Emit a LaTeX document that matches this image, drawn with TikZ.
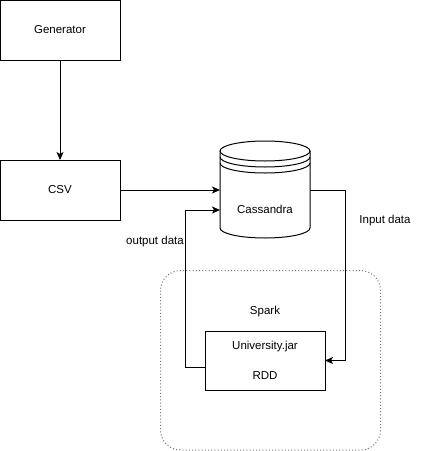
\documentclass[tikz,border=0pt]{standalone}
\usepackage{fontspec}
\setmainfont{Liberation Sans}
\usetikzlibrary{arrows.meta,calc,positioning}
\begin{document}
\begin{tikzpicture}[x=1pt,y=-1pt,
  every node/.style={font=\fontsize{11.5}{13}\selectfont, inner sep=0pt, outer sep=0pt},
  boxnode/.style={draw, line width=1pt, minimum width=120pt, minimum height=60pt},
  conn/.style={line width=1pt, -{Stealth[length=8pt,width=7pt,inset=2pt]}},
  plain/.style={line width=1pt},
  grp/.style={draw=black!55, line width=1pt, dash pattern=on 1pt off 2.2pt, rounded corners=20pt}
]
\useasboundingbox (0,0) rectangle (421,451);

% Nodes
\node[boxnode] (gen) at (60,30) {Generator};
\node[boxnode] (csv) at (60,190) {CSV};

% Spark group
\draw[grp] (160.5,270.5) rectangle (380.5,450);
\node (spark) at (265,312) {Spark};

% University box
\node[draw, line width=1pt, minimum width=120pt, minimum height=59pt] (uni) at (265,360.5) {};
\node (unitxt) at (265,347) {University.jar};
\node (rdd) at (265,376) {RDD};

% Cassandra cylinder
\node[minimum width=90pt, minimum height=97pt] (cas) at (265,189.5) {};
\fill[white] (220,151) -- (220,228) arc[start angle=180,end angle=360,x radius=45,y radius=-10] -- (310,151) arc[start angle=0,end angle=180,x radius=45,y radius=-10] -- cycle;
\draw[plain] (220,151) -- (220,228) arc[start angle=180,end angle=360,x radius=45,y radius=-10] -- (310,151);
\draw[plain] (265,151) ellipse[x radius=45,y radius=10];
\draw[plain] (220,157) arc[start angle=180,end angle=360,x radius=45,y radius=-10];
\draw[plain] (220,163) arc[start angle=180,end angle=360,x radius=45,y radius=-10];
\node (castxt) at (265,209) {Cassandra};

% Labels
\node (inlbl) at (385,221) {Input data};
\node (outlbl) at (155,242) {output data};

% Connectors
\draw[conn] (gen.south) -- (csv.north);
\draw[conn] (csv.east) -- (csv.east -| cas.west);
\coordinate (casR) at (310,190);
\coordinate (inbend) at (345.5,190);
\draw[conn] (casR) -- (inbend) |- (uni.east);
\coordinate (uniL) at ($(uni.west)+(0,7)$);
\coordinate (outbend) at (185.5,210);
\coordinate (casL2) at (220,210);
\draw[conn] (uniL) -| (outbend) -- (casL2);
\end{tikzpicture}
\end{document}
